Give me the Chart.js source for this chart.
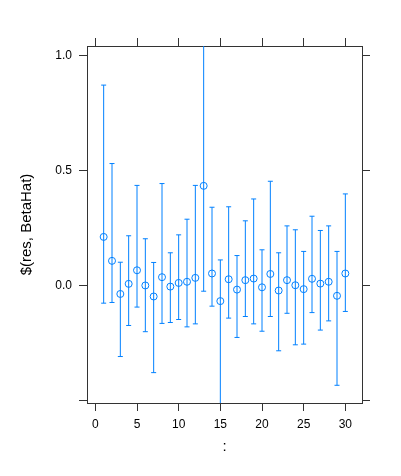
<!DOCTYPE html>
<html>
<head>
<meta charset="utf-8">
<script src="https://cdn.jsdelivr.net/npm/chart.js@4"></script>
<style>
  html, body { margin: 0; padding: 0; background: #fff; }
  #wrap { width: 401px; height: 476px; position: relative; }
</style>
</head>
<body>
<div id="wrap"><canvas id="chart"></canvas></div>
<script>
// index of each coefficient
const indexValues = [1, 2, 3, 4, 5, 6, 7, 8, 9, 10, 11, 12, 13, 14, 15,
                     16, 17, 18, 19, 20, 21, 22, 23, 24, 25, 26, 27, 28, 29, 30];
// point estimates
const estimates = [0.212, 0.108, -0.036, 0.008, 0.067, 0.001, -0.047, 0.037, -0.004, 0.012,
                   0.017, 0.034, 0.434, 0.053, -0.067, 0.028, -0.017, 0.024, 0.031, -0.007,
                   0.051, -0.021, 0.024, 0.002, -0.015, 0.030, 0.009, 0.017, -0.044, 0.053];
// upper ends of the intervals
const upperEnds = [0.872, 0.531, 0.102, 0.217, 0.436, 0.204, 0.101, 0.444, 0.143, 0.221,
                   0.289, 0.436, 1.200, 0.341, 0.112, 0.343, 0.131, 0.282, 0.377, 0.156,
                   0.454, 0.143, 0.260, 0.243, 0.149, 0.302, 0.240, 0.260, 0.149, 0.399];
// lower ends of the intervals
const lowerEnds = [-0.076, -0.073, -0.308, -0.173, -0.093, -0.200, -0.378, -0.164, -0.160, -0.147,
                   -0.179, -0.166, -0.024, -0.089, -0.700, -0.141, -0.225, -0.134, -0.166, -0.198,
                   -0.134, -0.283, -0.120, -0.257, -0.254, -0.117, -0.193, -0.153, -0.433, -0.112];

const xTicks = [0, 5, 10, 15, 20, 25, 30];
const yTicks = [-0.5, 0, 0.5, 1.0];
const yTickLabels = ['', '0.0', '0.5', '1.0'];

const BLUE = '#0080ff';
const AXIS = '#333333';
const FONT = '"Liberation Sans", Arial, sans-serif';

// vaste maten van het paneel (lattice-stijl)
function fixSize(prop, size) {
    return scale => { scale[prop] = size; };
}
function setTicks(values) {
    return scale => { scale.ticks = values.map(v => ({ value: v })); };
}

// foutbalken met kapjes, getekend via de schalen van Chart.js
const errorBars = {
    id: 'errorBars',
    beforeDatasetsDraw(chart) {
        const { ctx, chartArea, scales: { x, y } } = chart;
        ctx.save();
        ctx.beginPath();
        ctx.rect(chartArea.left, chartArea.top, chartArea.right - chartArea.left, chartArea.bottom - chartArea.top);
        ctx.clip();
        ctx.strokeStyle = BLUE;
        ctx.lineWidth = 1;
        indexValues.forEach((v, i) => {
            const px = x.getPixelForValue(v);
            const top = y.getPixelForValue(upperEnds[i]);
            const bot = y.getPixelForValue(lowerEnds[i]);
            ctx.beginPath();
            ctx.moveTo(px, top);
            ctx.lineTo(px, bot);
            ctx.moveTo(px - 2.5, top);
            ctx.lineTo(px + 2.5, top);
            ctx.moveTo(px - 2.5, bot);
            ctx.lineTo(px + 2.5, bot);
            ctx.stroke();
        });
        ctx.restore();
    }
};

const gridOpts = {
    drawOnChartArea: false,
    drawTicks: true,
    tickLength: 8,
    color: AXIS,
    lineWidth: 1
};
const borderOpts = { display: true, color: AXIS, width: 1 };

new Chart(document.getElementById('chart'), {
    type: 'scatter',
    data: {
        datasets: [{
            data: indexValues.map((v, i) => ({ x: v, y: estimates[i] })),
            pointStyle: 'circle',
            pointRadius: 3.5,
            pointBorderWidth: 1,
            pointBorderColor: BLUE,
            pointBackgroundColor: 'rgba(0,0,0,0)',
            showLine: false
        }]
    },
    plugins: [errorBars],
    options: {
        responsive: true,
        maintainAspectRatio: false,
        animation: false,
        layout: { padding: 0 },
        plugins: {
            legend: { display: false },
            tooltip: { enabled: false }
        },
        scales: {
            x: {
                type: 'linear',
                position: 'bottom',
                min: -1,
                max: 32,
                afterBuildTicks: setTicks(xTicks),
                afterFit: fixSize('height', 73),
                grid: gridOpts,
                border: borderOpts,
                ticks: {
                    color: '#000',
                    font: { family: FONT, size: 12 },
                    padding: 6,
                    maxRotation: 0,
                    callback: v => String(v)
                },
                title: {
                    display: true,
                    text: ':',
                    color: '#000',
                    font: { family: FONT, size: 15 },
                    padding: { top: 0, bottom: 20 }
                }
            },
            xTop: {
                type: 'linear',
                position: 'top',
                min: -1,
                max: 32,
                afterBuildTicks: setTicks(xTicks),
                afterFit: fixSize('height', 46),
                grid: gridOpts,
                border: borderOpts,
                ticks: { callback: () => '' }
            },
            y: {
                type: 'linear',
                position: 'left',
                min: -0.51,
                max: 1.042,
                afterBuildTicks: setTicks(yTicks),
                afterFit: fixSize('width', 87),
                grid: gridOpts,
                border: borderOpts,
                ticks: {
                    color: '#000',
                    font: { family: FONT, size: 12 },
                    padding: 7,
                    callback: (v, i) => yTickLabels[i]
                },
                title: {
                    display: true,
                    text: '$(res, BetaHat)',
                    color: '#000',
                    font: { family: FONT, size: 15 },
                    padding: { top: 18, bottom: 0 }
                }
            },
            yRight: {
                type: 'linear',
                position: 'right',
                min: -0.51,
                max: 1.042,
                afterBuildTicks: setTicks(yTicks),
                afterFit: fixSize('width', 39),
                grid: gridOpts,
                border: borderOpts,
                ticks: { callback: () => '' }
            }
        }
    }
});
</script>
</body>
</html>
